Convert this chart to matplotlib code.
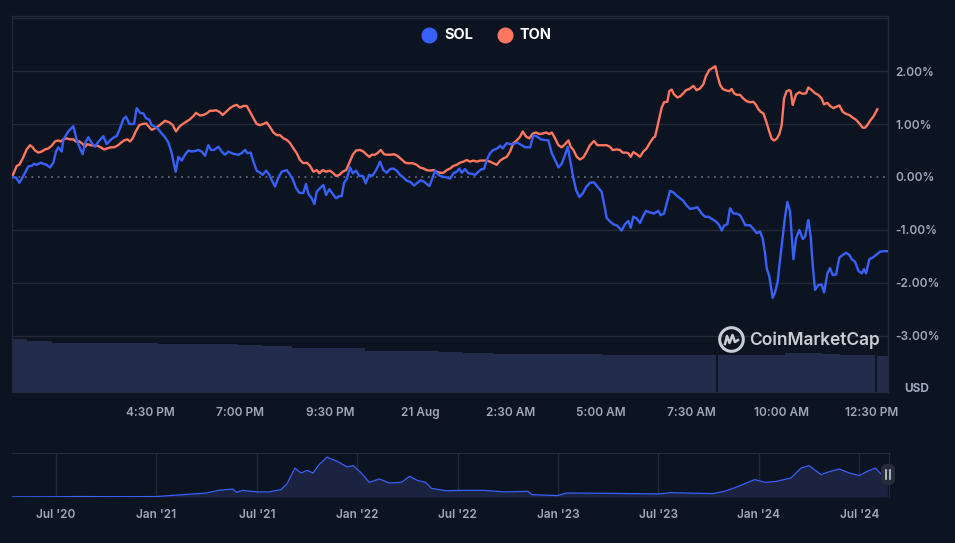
import numpy as np
import matplotlib.pyplot as plt
from matplotlib.lines import Line2D
from matplotlib.patches import FancyBboxPatch

plt.rcParams['font.family'] = ['Inter', 'DejaVu Sans']

BG = "#0d1421"
GRID = "#222a3a"
TXT = "#a1a7bb"
SOL_C = "#3861fb"
TON_C = "#ff775f"
VOL_C = "#232b4b"
NAV_FILL = "#1c2340"
WM = "#dfe2e8"

# minutes after 12:40 PM, 20 Aug ; change in %
sol_t = [0, 6.7, 12.2, 18.9, 27.2, 32.7, 36.6, 41.1, 47.7, 52.1, 57.7, 63.2, 68.8, 73.2, 77.1, 82.7, 85.4, 88.2,
         93.8, 102.1, 107.6, 113.2, 117.6, 121.5, 127.0, 132.6, 138.1, 142.0, 146.5, 152.0, 157.6, 163.1, 169.8,
         174.2, 179.8, 185.3, 189.7, 195.3, 203.1, 207.5, 213.0, 218.6, 223.0, 228.6, 232.5, 238.0, 243.6, 249.1,
         254.7, 260.2, 265.8, 268.5, 272.4, 276.8, 282.4, 287.9, 293.5, 299.0, 304.6, 310.1, 315.7, 321.2, 326.8,
         331.2, 336.2, 343.4, 349.0, 354.5, 360.1, 365.6, 371.2, 376.7, 382.3, 387.8, 391.7, 397.2, 401.7, 407.2,
         412.8, 417.2, 422.8, 428.3, 432.2, 437.7, 443.3, 448.8, 457.2, 461.6, 467.1, 472.7, 478.2,
         484.8, 489.3, 493.2, 498.7, 503.2, 507.0, 512.6, 518.1, 522.6, 528.1,
         533.7, 539.2, 544.8, 548.7, 552.5, 557.0, 562.5, 567.0, 572.5, 578.1,
         583.6, 588.6, 594.1, 599.7, 605.8, 612.5, 618.0, 623.5, 629.1, 634.6,
         640.2, 645.7, 651.3, 656.8, 662.4, 669.0, 674.6, 680.1, 685.7, 691.2,
         694.6, 698.4, 704.0, 709.5, 715.1, 723.4, 729.0, 734.5, 740.1, 744.5,
         748.4, 753.9, 759.5, 765.0, 770.6, 776.1, 781.7, 785.5, 790.0, 795.5,
         801.1, 807.7, 812.2, 816.6, 823.3, 828.8, 834.4, 841.0, 848.2, 853.8,
         862.1, 867.7, 874.3, 879.9, 885.4, 892.6, 898.2, 903.7, 909.3, 914.8,
         920.4, 924.8, 928.7, 933.1, 938.7, 944.2, 949.8, 955.3,
         961.8, 968.5, 974.0, 981.2, 985.1, 989.5, 995.1, 1000.6, 1007.3, 1014.5,
         1020.1, 1025.6, 1029.5, 1033.9, 1039.5, 1045.0, 1050.6, 1055.0, 1061.7, 1068.3,
         1075.5, 1079.4, 1085.0, 1089.4, 1095.0, 1100.5, 1106.0, 1111.6, 1117.1, 1122.7,
         1128.2, 1134.9, 1140.4, 1147.7, 1153.2, 1158.8, 1164.3, 1171.5, 1177.1, 1181.0,
         1184.8, 1190.4, 1194.8, 1200.4, 1205.9, 1211.5, 1215.9, 1220.3, 1228.1, 1233.7,
         1239.2, 1244.7, 1249.2, 1253.1, 1255.8, 1260.3, 1265.8, 1269.7, 1274.1, 1278.0,
         1282.5, 1286.4, 1290.2, 1294.7, 1300.2, 1304.7, 1310.2, 1315.8, 1319.6, 1325.2,
         1329.1, 1332.4, 1336.3, 1341.8, 1347.4, 1351.3, 1356.8, 1361.3, 1365.7, 1371.3,
         1376.8, 1382.4, 1387.9, 1393.4, 1397.3, 1402.9, 1408.4, 1414.0, 1417.8, 1421.2,
         1426.7, 1432.3, 1438.9, 1444.5, 1450.0, 1456.7]
sol_pct = [0.00, -0.01, -0.11, 0.02, 0.20, 0.21, 0.25, 0.23, 0.27, 0.25, 0.23, 0.18, 0.27, 0.48, 0.56, 0.48, 0.70,
           0.76, 0.86, 0.96, 0.70, 0.54, 0.43, 0.64, 0.75, 0.64, 0.57, 0.64, 0.70, 0.77, 0.62, 0.69, 0.75, 0.77,
           0.92, 1.09, 1.14, 1.00, 1.00, 1.30, 1.21, 1.20, 1.11, 1.08, 0.98, 0.95, 0.90, 0.82, 0.75, 0.65, 0.45,
           0.29, 0.10, 0.38, 0.31, 0.42, 0.50, 0.48, 0.49, 0.51, 0.48, 0.40, 0.60, 0.51, 0.51, 0.57, 0.48, 0.42,
           0.48, 0.45, 0.43, 0.42, 0.45, 0.51, 0.45, 0.46, 0.29, 0.12, 0.08, 0.04, 0.12, 0.04, -0.06, -0.18, -0.01,
           0.10, 0.13, 0.06, -0.04, -0.21, -0.30,
           -0.30, -0.13, -0.32, -0.40, -0.51, -0.28, -0.21, -0.15, -0.34, -0.23,
           -0.32, -0.40, -0.36, -0.36, -0.11, -0.04, 0.18, 0.07, 0.12, 0.02,
           0.02, -0.12, 0.04, 0.02, 0.13, 0.29, 0.13, 0.08, 0.15, 0.16,
           0.12, 0.04, -0.01, -0.07, -0.09, -0.16, -0.11, -0.06, -0.09, -0.14,
           -0.17, -0.06, 0.12, 0.04, 0.01, -0.01, -0.03, 0.07, 0.10, 0.16,
           0.08, 0.15, 0.07, 0.06, 0.04, 0.10, 0.15, 0.15, 0.32, 0.45,
           0.51, 0.54, 0.59, 0.54, 0.64, 0.62, 0.62, 0.65, 0.60, 0.56,
           0.56, 0.79, 0.76, 0.71, 0.70, 0.69, 0.45, 0.32, 0.18, 0.25,
           0.42, 0.57, 0.32, 0.04, -0.25, -0.38, -0.31, -0.19,
           -0.11, -0.10, -0.18, -0.28, -0.50, -0.77, -0.84, -0.89, -0.92, -1.01,
           -0.89, -0.83, -0.96, -0.75, -0.78, -0.87, -0.73, -0.64, -0.67, -0.69,
           -0.64, -0.72, -0.69, -0.50, -0.26, -0.29, -0.35, -0.40, -0.45, -0.54,
           -0.60, -0.59, -0.57, -0.69, -0.75, -0.75, -0.79, -0.84, -0.91, -1.01,
           -0.92, -0.89, -0.59, -0.69, -0.69, -0.72, -0.81, -0.91, -0.91, -0.98,
           -1.06, -1.03, -1.16, -1.44, -1.72, -1.88, -2.28, -2.18, -1.97, -1.57,
           -1.13, -0.75, -0.47, -0.65, -1.55, -1.16, -1.00, -1.17, -1.13, -0.81,
           -1.13, -1.66, -2.13, -2.04, -2.03, -2.18, -1.82, -1.72, -1.85, -1.84,
           -1.52, -1.47, -1.43, -1.47, -1.55, -1.60, -1.77, -1.82, -1.74, -1.82,
           -1.55, -1.52, -1.46, -1.41, -1.40, -1.40]

ton_t = [0, 5.0, 7.8, 12.2, 17.8, 24.4, 30.0, 34.4, 38.3, 43.8,
         49.4, 54.9, 60.5, 66.0, 71.6, 77.1, 81.0, 85.4, 91.0, 96.5,
         102.1, 106.5, 112.1, 116.0, 121.5, 125.4, 130.9, 136.5, 142.0, 147.6,
         153.1, 158.7, 164.2, 169.8, 175.3, 180.9, 186.4, 192.0, 196.4, 200.8,
         206.4, 211.9, 217.5, 223.0, 226.9, 232.5, 238.0, 243.6, 249.1, 254.7,
         261.9, 267.4, 273.0, 278.5, 284.1, 289.6, 296.3, 301.8, 306.2, 312.9,
         318.4, 324.0, 329.5, 335.1, 339.5, 345.1, 350.6, 356.2, 362.8, 368.4,
         373.9, 379.5, 385.0, 390.6, 396.1, 401.7, 407.2, 412.8, 418.3, 423.9,
         429.4, 435.0, 440.5, 446.1, 451.6, 457.2, 462.7, 468.3, 473.8,
         479.3, 484.8, 490.4, 495.9, 501.5, 507.0, 511.5, 517.0, 522.6, 529.2,
         534.8, 539.2, 544.8, 550.3, 555.9, 561.4, 567.0, 572.5, 579.2, 584.7,
         590.3, 594.7, 598.6, 604.1, 608.0, 613.6, 619.1, 624.7, 630.2, 635.8,
         641.3, 648.5, 654.1, 659.6, 666.8, 673.5, 679.0, 684.6, 690.1, 695.7,
         701.2, 706.8, 712.3, 717.9, 723.4, 729.0, 734.5, 740.1, 745.6, 751.2,
         756.7, 762.2, 767.8, 773.3, 778.9, 784.4, 790.0, 795.5, 801.1, 806.6,
         812.2, 817.7, 823.3, 828.8, 834.4, 839.9, 845.5, 849.9, 855.5, 861.0,
         866.5, 872.1, 877.6, 883.2, 888.7, 894.3, 898.2, 903.7, 909.3, 914.8,
         920.4, 925.9, 929.8, 934.2, 939.8, 945.3, 950.9, 956.4,
         961.8, 968.5, 974.0, 981.2, 989.5, 995.1, 999.5, 1006.2, 1011.7, 1016.2,
         1021.7, 1025.6, 1029.5, 1033.9, 1039.5, 1045.0, 1050.6, 1056.1, 1061.7, 1067.2,
         1070.0, 1072.8, 1077.2, 1081.1, 1085.0, 1090.5, 1093.8, 1097.7, 1101.6, 1107.2,
         1111.6, 1117.1, 1121.6, 1127.1, 1133.8, 1139.3, 1144.9, 1150.4, 1154.9, 1160.4,
         1166.0, 1170.4, 1173.7, 1178.2, 1182.6, 1189.3, 1193.7, 1197.6, 1201.5, 1205.9,
         1211.5, 1217.0, 1222.6, 1228.1, 1233.7, 1238.1, 1242.0, 1245.9, 1250.3, 1254.7,
         1260.3, 1264.2, 1268.0, 1272.5, 1276.9, 1280.8, 1284.7, 1289.1, 1293.6, 1295.8,
         1299.1, 1304.7, 1310.2, 1315.8, 1321.3, 1325.2, 1330.7, 1336.3, 1341.8, 1347.4,
         1351.3, 1356.8, 1361.3, 1366.8, 1372.4, 1376.8, 1382.4, 1387.9, 1393.4, 1399.0,
         1404.5, 1410.1, 1415.6, 1419.5, 1423.4, 1427.8, 1433.4, 1440.0]
ton_pct = [0.00, 0.13, 0.21, 0.23, 0.35, 0.52, 0.60, 0.56, 0.50, 0.46,
           0.48, 0.52, 0.54, 0.59, 0.67, 0.69, 0.67, 0.71, 0.73, 0.71,
           0.71, 0.67, 0.67, 0.64, 0.57, 0.62, 0.60, 0.59, 0.59, 0.56,
           0.52, 0.54, 0.56, 0.56, 0.59, 0.64, 0.69, 0.71, 0.67, 0.73,
           0.87, 0.98, 1.00, 1.01, 0.96, 0.89, 0.92, 0.96, 1.01, 1.06,
           1.03, 0.98, 0.86, 0.95, 1.00, 1.04, 1.09, 1.15, 1.21, 1.16,
           1.17, 1.20, 1.25, 1.25, 1.26, 1.23, 1.17, 1.23, 1.30, 1.34,
           1.36, 1.31, 1.34, 1.34, 1.23, 1.11, 1.00, 0.98, 1.00, 1.03,
           0.94, 0.84, 0.79, 0.79, 0.73, 0.70, 0.64, 0.54, 0.45,
           0.32, 0.26, 0.27, 0.21, 0.10, 0.13, 0.07, 0.13, 0.10, 0.12,
           0.07, 0.02, 0.04, 0.10, 0.13, 0.27, 0.42, 0.50, 0.51, 0.48,
           0.42, 0.38, 0.42, 0.42, 0.45, 0.51, 0.43, 0.42, 0.42, 0.43,
           0.40, 0.33, 0.27, 0.26, 0.26, 0.23, 0.18, 0.16, 0.13, 0.12,
           0.13, 0.10, 0.08, 0.08, 0.13, 0.16, 0.21, 0.23, 0.27, 0.29,
           0.32, 0.29, 0.31, 0.29, 0.31, 0.31, 0.31, 0.29, 0.26, 0.23,
           0.31, 0.35, 0.38, 0.48, 0.64, 0.69, 0.76, 0.86, 0.76, 0.73,
           0.82, 0.84, 0.81, 0.82, 0.84, 0.81, 0.84, 0.73, 0.60, 0.56,
           0.62, 0.69, 0.57, 0.51, 0.38, 0.33, 0.37, 0.48,
           0.60, 0.68, 0.60, 0.60, 0.60, 0.57, 0.51, 0.52, 0.51, 0.46,
           0.46, 0.45, 0.38, 0.47, 0.43, 0.38, 0.48, 0.54, 0.65, 0.74,
           0.76, 0.89, 1.11, 1.31, 1.41, 1.42, 1.62, 1.65, 1.56, 1.50,
           1.52, 1.58, 1.64, 1.66, 1.72, 1.64, 1.67, 1.75, 1.91, 2.02,
           2.06, 2.09, 1.92, 1.74, 1.66, 1.63, 1.62, 1.66, 1.58, 1.55,
           1.55, 1.48, 1.43, 1.41, 1.42, 1.36, 1.28, 1.23, 1.20, 1.06,
           0.85, 0.72, 0.69, 0.72, 0.81, 0.98, 1.48, 1.62, 1.64, 1.62,
           1.36, 1.56, 1.60, 1.57, 1.58, 1.69, 1.64, 1.58, 1.55, 1.48,
           1.37, 1.40, 1.34, 1.30, 1.33, 1.35, 1.23, 1.19, 1.17, 1.12,
           1.08, 1.01, 0.93, 0.93, 0.98, 1.06, 1.14, 1.28]

# volume steps (edges in minutes, heights in $B), zero = missing
vol_edges = [0, 25.6, 66.2, 131.5, 243, 375, 416, 466, 587, 710, 750, 800, 983, 1172, 1175, 1287, 1348,
             1378, 1436, 1439, 1459]
vol_b = [3.18, 3.08, 2.96, 2.92, 2.88, 2.82, 2.76, 2.64, 2.46, 2.38, 2.32, 2.26, 2.22, 0, 2.22, 2.36, 2.26,
         2.22, 0, 2.18]

x_tick_min = [230, 380, 530, 680, 830, 980, 1130, 1280, 1430]
x_tick_lbl = ["4:30 PM", "7:00 PM", "9:30 PM", "21 Aug", "2:30 AM", "5:00 AM", "7:30 AM", "10:00 AM", "12:30 PM"]
y_ticks = [2, 1, 0, -1, -2, -3]

# navigator: SOL price history
nav_year = [2020.28, 2020.5, 2020.61, 2020.83, 2021.0, 2021.13, 2021.25, 2021.31, 2021.38, 2021.40, 2021.43,
            2021.5, 2021.56, 2021.62, 2021.65, 2021.69, 2021.72, 2021.75, 2021.78, 2021.81, 2021.85, 2021.87,
            2021.90, 2021.95, 2021.98, 2022.02, 2022.06, 2022.11, 2022.16, 2022.22, 2022.26, 2022.30, 2022.34,
            2022.37, 2022.44, 2022.53, 2022.63, 2022.74, 2022.85, 2022.87, 2023.0, 2023.04, 2023.25, 2023.5,
            2023.56, 2023.77, 2023.83, 2023.89, 2023.98, 2024.03, 2024.09, 2024.16, 2024.21, 2024.25, 2024.31,
            2024.34, 2024.40, 2024.45, 2024.50, 2024.54, 2024.58, 2024.62, 2024.64]
nav_price = [0.8, 1.5, 3, 2, 3, 15, 26, 43, 52, 30, 43, 33, 33, 48, 85, 188, 156, 173, 156, 210, 260, 247, 232,
             195, 204, 156, 95, 117, 91, 95, 134, 108, 95, 56, 41, 43, 43, 33, 37, 15, 9, 26, 24, 20, 28, 22, 37,
             65, 113, 95, 102, 124, 188, 204, 145, 160, 182, 156, 139, 167, 188, 134, 140]
nav_ticks = [2020.5, 2021.0, 2021.5, 2022.0, 2022.5, 2023.0, 2023.5, 2024.0, 2024.5]
nav_lbl = ["Jul '20", "Jan '21", "Jul '21", "Jan '22", "Jul '22", "Jan '23", "Jul '23", "Jan '24", "Jul '24"]

W, H = 955, 543
fig = plt.figure(figsize=(W / 100, H / 100), dpi=100, facecolor=BG)

def px(x, y):
    # pixel position -> inches for dpi_scale_trans
    return x / 100, (H - y) / 100

rect = [12 / W, 1 - 392 / H, 876 / W, 376 / H]
ax_vol = fig.add_axes(rect)
ax = fig.add_axes(rect, sharex=ax_vol)
ax_vol.set_facecolor(BG)
ax.set_facecolor("none")

# volume
edges = np.array(vol_edges)
ax_vol.bar(edges[:-1], vol_b, width=np.diff(edges), align="edge", color=VOL_C, linewidth=0)
ax_vol.set_ylim(0, 22.56)
ax_vol.set_yticks([])
for s in ax_vol.spines.values():
    s.set_visible(False)
ax_vol.tick_params(axis="x", length=0, labelbottom=False)

ax.set_xlim(0, 1457.7)
ax.set_ylim(-4.057, 3.038)
for v in [3, 2, 1, -1, -2, -3]:
    ax.axhline(v, color=GRID, lw=1, zorder=1)
ax.axhline(0, color="#5f6675", lw=1.3, ls=(0, (1, 2.6)), zorder=1)

ax.plot(ton_t, ton_pct, color=TON_C, lw=1.7, zorder=3, solid_joinstyle="round")
ax.plot(sol_t, sol_pct, color=SOL_C, lw=1.7, zorder=4, solid_joinstyle="round")

ax.yaxis.tick_right()
ax.set_yticks(y_ticks)
ax.set_yticklabels([f"{v:.2f}%" for v in y_ticks])
ax.set_xticks(x_tick_min)
ax.set_xticklabels(x_tick_lbl)
ax.tick_params(axis="y", length=0, pad=5, labelcolor=TXT, labelsize=8.5)
ax.tick_params(axis="x", length=0, pad=11, labelcolor=TXT, labelsize=8.5)
for lb in ax.get_xticklabels() + ax.get_yticklabels():
    lb.set_fontweight("semibold")
for s in ax.spines.values():
    s.set_color(GRID)
    s.set_linewidth(1)

# legend
for xx, col, name in [(429, SOL_C, "SOL"), (505, TON_C, "TON")]:
    cx, cy = px(xx, 35)
    fig.add_artist(Line2D([cx], [cy], transform=fig.dpi_scale_trans, marker="o", ms=10.5, color=col, ls=""))
    tx, ty = px(xx + 15, 35)
    fig.text(tx, ty, name, transform=fig.dpi_scale_trans, color="white", fontsize=10.5, fontweight="bold",
             ha="left", va="center")

# watermark
lx, ly = px(731, 339)
fig.add_artist(Line2D([lx], [ly], transform=fig.dpi_scale_trans, marker="o", ms=17, mfc="none", mec=WM,
                      mew=2.2, ls="", alpha=0.9))
zig = [(-6, 5), (-4, -3), (-1.5, 4), (1.5, -4), (4, 3), (7, 1)]
fig.add_artist(Line2D([lx + a / 100 for a, b in zig], [ly - b / 100 for a, b in zig],
                      transform=fig.dpi_scale_trans, color=WM, lw=1.8, alpha=0.9))
wx, wy = px(749, 340.5)
fig.text(wx, wy, "CoinMarketCap", transform=fig.dpi_scale_trans, color=WM, fontsize=12.5,
         fontweight="semibold", ha="left", va="center", alpha=0.9)

ux, uy = px(904, 389)
fig.text(ux, uy, "USD", transform=fig.dpi_scale_trans, color=TXT, fontsize=8.5, fontweight="bold",
         ha="left", va="center")

# navigator
ax_nav = fig.add_axes([12 / W, 1 - 497 / H, 877 / W, 44 / H])
ax_nav.set_facecolor(BG)
ax_nav.fill_between(nav_year, nav_price, 0, color=NAV_FILL, lw=0)
ax_nav.plot(nav_year, nav_price, color=SOL_C, lw=0.9)
ax_nav.set_xlim(2020.281, 2024.648)
ax_nav.set_ylim(0, 286)
ax_nav.set_yticks([])
ax_nav.set_xticks(nav_ticks)
ax_nav.set_xticklabels(nav_lbl)
for t in nav_ticks:
    ax_nav.axvline(t, color=GRID, lw=1, zorder=0)
ax_nav.tick_params(axis="x", length=0, pad=9, labelcolor=TXT, labelsize=8.5)
for lb in ax_nav.get_xticklabels():
    lb.set_fontweight("semibold")
for k, s in ax_nav.spines.items():
    s.set_color("#252c3b")
    s.set_visible(k in ("top", "right"))

hx, hy = px(881, 485)
fig.add_artist(FancyBboxPatch((hx, hy), 0.14, 0.21, boxstyle="round,pad=0,rounding_size=0.06",
                              transform=fig.dpi_scale_trans, facecolor="#262c3a", edgecolor="none"))
for off in (-2, 2):
    bx, _ = px(888 + off, 0)
    _, b0 = px(0, 479)
    _, b1 = px(0, 470)
    fig.add_artist(Line2D([bx, bx], [b0, b1], transform=fig.dpi_scale_trans, color="#c9ccd4", lw=1.2))

fig.savefig("out.png", dpi=100, facecolor=BG)
